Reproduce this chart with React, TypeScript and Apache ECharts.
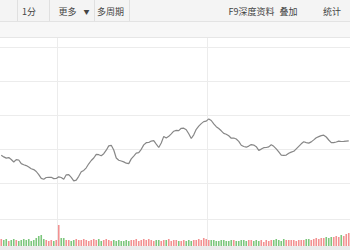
import React, { useEffect, useRef } from "react";
import * as echarts from "echarts";

const minutes: string[] = Array.from({ length: 140 }, (_, i) => `m${i}`);

const prices: number[] = [
  20.678, 20.661, 20.649, 20.654, 20.635, 20.61, 20.634, 20.63, 20.594, 20.583,
  20.574, 20.56, 20.543, 20.534, 20.515, 20.483, 20.446, 20.438, 20.455, 20.457,
  20.457, 20.444, 20.445, 20.462, 20.455, 20.438, 20.482, 20.484, 20.457, 20.421,
  20.429, 20.467, 20.512, 20.526, 20.552, 20.592, 20.625, 20.65, 20.687, 20.683,
  20.673, 20.693, 20.728, 20.771, 20.777, 20.73, 20.65, 20.628, 20.62, 20.611,
  20.598, 20.594, 20.641, 20.669, 20.698, 20.703, 20.737, 20.781, 20.803, 20.805,
  20.819, 20.824, 20.789, 20.755, 20.8, 20.866, 20.851, 20.867, 20.892, 20.918,
  20.926, 20.924, 20.947, 20.948, 20.933, 20.892, 20.845, 20.882, 20.937, 20.968,
  20.994, 21.014, 21.019, 21.041, 21.025, 20.991, 20.963, 20.945, 20.922, 20.896,
  20.888, 20.872, 20.848, 20.85, 20.84, 20.816, 20.777, 20.765, 20.758, 20.769,
  20.784, 20.779, 20.763, 20.726, 20.739, 20.753, 20.755, 20.761, 20.783, 20.767,
  20.742, 20.711, 20.679, 20.676, 20.679, 20.697, 20.709, 20.717, 20.742, 20.767,
  20.792, 20.812, 20.804, 20.799, 20.811, 20.831, 20.853, 20.864, 20.874, 20.878,
  20.86, 20.83, 20.803, 20.803, 20.81, 20.819, 20.815, 20.816, 20.819, 20.822,
];

const volumes: number[] = [
  700, 600, 700, 500, 600, 700, 600, 500, 600, 700,
  600, 700, 500, 600, 800, 1000, 1100, 700, 600, 500,
  600, 500, 600, 2100, 800, 800, 600, 600, 500, 600,
  700, 600, 600, 700, 600, 500, 600, 700, 600, 700,
  500, 600, 700, 600, 500, 600, 500, 600, 500, 500,
  600, 500, 600, 600, 700, 500, 600, 700, 600, 700,
  600, 500, 600, 600, 500, 600, 600, 700, 500, 600,
  600, 500, 500, 600, 500, 600, 500, 600, 600, 700,
  600, 800, 700, 600, 600, 600, 500, 500, 600, 600,
  500, 500, 600, 600, 500, 500, 600, 600, 500, 600,
  600, 500, 600, 500, 600, 400, 600, 500, 600, 600,
  700, 600, 500, 700, 600, 600, 600, 600, 500, 600,
  600, 600, 700, 700, 600, 700, 800, 700, 800, 800,
  900, 800, 900, 900, 1000, 900, 1100, 1000, 1200, 1300,
];

const toolbarLeft: string[] = ["1分", "更多", "多周期"];
const toolbarRight: string[] = ["F9深度资料", "叠加", "统计"];

const RED = "#f29191";
const GREEN = "#7cc67c";
const FONT = '"Noto Sans CJK SC", "Noto Sans", sans-serif';

export default function App() {
  const ref = useRef<HTMLDivElement>(null);
  useEffect(() => {
    if (!ref.current) return;
    const chart = echarts.init(ref.current, null, { renderer: "svg" });
    const barData = volumes.map((v, i) => ({
      value: v,
      itemStyle: { color: i === 0 || prices[i] >= prices[i - 1] ? RED : GREEN },
    }));
    const txt = (x: number, s: string, size = 9) => ({
      type: "text",
      x,
      y: 11,
      style: { text: s, fill: "#444", font: `${size}px ${FONT}`, textVerticalAlign: "middle" },
      z: 10,
    });
    const sep = (x: number) => ({
      type: "line",
      shape: { x1: x, y1: 0, x2: x, y2: 21 },
      style: { stroke: "#e0e0e0", lineWidth: 1 },
      z: 10,
    });
    chart.setOption({
      animation: false,
      backgroundColor: "#fff",
      grid: [
        { left: 0, top: 47, width: 350, height: 136 },
        { left: 0, top: 219, width: 350, height: 27 },
        { left: 0, top: 38, width: 350, height: 209 },
      ],
      xAxis: [0, 1, 2].map((g) => ({
        type: "category",
        gridIndex: g,
        data: minutes,
        boundaryGap: true,
        axisLine: { show: false },
        axisTick: { show: false },
        axisLabel: { show: false },
        splitLine:
          g === 2
            ? {
                show: true,
                interval: (idx: number) => idx === 23 || idx === 83,
                lineStyle: { color: "#ececec", width: 1 },
              }
            : { show: false },
      })),
      yAxis: [
        {
          type: "value",
          gridIndex: 0,
          min: 20.4,
          max: 21.76,
          interval: 0.34,
          axisLine: { show: false },
          axisTick: { show: false },
          axisLabel: { show: false },
          splitLine: { show: true, lineStyle: { color: "#ececec", width: 1 } },
        },
        {
          type: "value",
          gridIndex: 1,
          min: 0,
          max: 2700,
          interval: 2700,
          axisLine: { show: false },
          axisTick: { show: false },
          axisLabel: { show: false },
          splitLine: { show: true, lineStyle: { color: "#ececec", width: 1 } },
        },
        { type: "value", gridIndex: 2, show: false, min: 0, max: 1 },
      ],
      series: [
        {
          type: "line",
          xAxisIndex: 0,
          yAxisIndex: 0,
          data: prices,
          showSymbol: false,
          symbol: "none",
          lineStyle: { color: "#878787", width: 1.2 },
          z: 5,
        },
        {
          type: "bar",
          xAxisIndex: 1,
          yAxisIndex: 1,
          data: barData,
          barWidth: 1.6,
          z: 4,
        },
      ],
      graphic: [
        { type: "rect", shape: { x: 0, y: 0, width: 350, height: 21 }, style: { fill: "#f4f4f4" }, z: 9 },
        { type: "rect", shape: { x: 0, y: 22, width: 350, height: 15 }, style: { fill: "#f7f7f7" }, z: 9 },
        { type: "line", shape: { x1: 0, y1: 21.5, x2: 350, y2: 21.5 }, style: { stroke: "#e3e3e3", lineWidth: 1 }, z: 10 },
        { type: "line", shape: { x1: 0, y1: 37.5, x2: 350, y2: 37.5 }, style: { stroke: "#e6e6e6", lineWidth: 1 }, z: 10 },
        { type: "rect", shape: { x: 0, y: 247, width: 350, height: 3 }, style: { fill: "#ebebeb" }, z: 9 },
        sep(17.5),
        sep(49.5),
        sep(94.5),
        sep(129.5),
        txt(22, toolbarLeft[0]),
        txt(58.5, toolbarLeft[1]),
        {
          type: "text",
          x: 83.5,
          y: 11,
          style: { text: "▼", fill: "#444", font: `6px ${FONT}`, textVerticalAlign: "middle" },
          z: 10,
        },
        txt(97, toolbarLeft[2]),
        txt(228.5, toolbarRight[0]),
        txt(279.5, toolbarRight[1]),
        txt(323, toolbarRight[2]),
      ],
    });
    return () => chart.dispose();
  }, []);
  return (
    <div
      ref={ref}
      style={{ position: "fixed", left: 0, top: 0, width: 350, height: 250, background: "#fff" }}
    />
  );
}
